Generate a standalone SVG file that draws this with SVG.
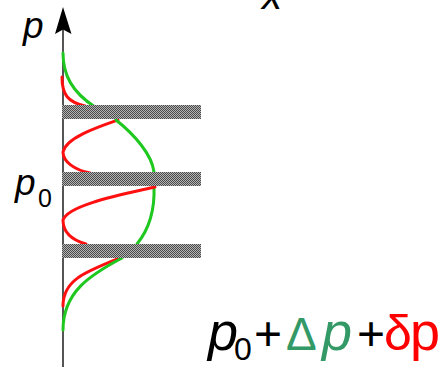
<svg xmlns="http://www.w3.org/2000/svg" width="443" height="367" viewBox="0 0 443 367">
<style>
.lbl{font-family:"Liberation Sans",Arial,sans-serif;fill:#000}
.it{font-style:italic}
.bar{fill:url(#chk)}
.g{fill:none;stroke:#1ec81e;stroke-width:3;stroke-linecap:round}
.r{fill:none;stroke:#ff1010;stroke-width:3;stroke-linecap:round}
</style>
<defs>
<pattern id="chk" width="2" height="2" patternUnits="userSpaceOnUse">
<rect width="2" height="2" fill="#b4b4b4"/>
<rect width="1" height="1" fill="#4a4a4a"/>
<rect x="1" y="1" width="1" height="1" fill="#4a4a4a"/>
</pattern>
</defs>
<rect width="443" height="367" fill="#fff"/>
<g id="axis">
<line x1="63" y1="28" x2="63" y2="367" stroke="#555" stroke-width="2"/>
<path d="M63,7 L71.5,34 L63,29.5 L55,34 Z" fill="#000"/>
</g>
<g id="connectors">
<path class="r" d="M62,77 C62,95 68,102 85,106"/>
<path class="g" d="M63,53 C63,75 72,92 95,107"/>
<path class="r" d="M118,120 C95,128 66,138 63,152 C63,162 75,170 90,173"/>
<path class="g" d="M116,120 C135,135 152,155 154,172"/>
<path class="g" d="M154,186 C155,210 150,228 137,244"/>
<path class="r" d="M155,187 C120,195 68,205 63,220 C63,232 72,240 86,244"/>
<path class="r" d="M120,258 C85,272 63,280 63,306"/>
<path class="g" d="M122,258 C90,275 63,292 63,330"/>
</g>
<g id="bars">
<rect id="bar1" class="bar" x="62" y="105" width="139" height="14"/>
<rect id="bar2" class="bar" x="62" y="172" width="139" height="14"/>
<rect id="bar3" class="bar" x="62" y="244" width="139" height="14"/>
</g>
<g id="labels">
<text class="lbl it" x="23" y="38" font-size="37">p</text>
<text class="lbl it" x="262" y="9" font-size="40">x</text>
<text class="lbl" x="15" y="195" font-size="37"><tspan class="it">p</tspan><tspan x="38" y="207" font-size="25">0</tspan></text>
<text class="lbl" y="350" font-size="54"><tspan x="208" class="it">p</tspan><tspan x="234" y="360" font-size="32">0</tspan><tspan x="254" font-size="48" y="350">+</tspan><tspan x="286" font-size="46" fill="#339966">Δ</tspan><tspan x="322" fill="#339966" class="it">p</tspan><tspan x="357" font-size="48">+</tspan><tspan x="384" font-size="50" fill="#ff0000">δ</tspan><tspan x="410" fill="#ff0000">p</tspan></text>
</g>
</svg>
